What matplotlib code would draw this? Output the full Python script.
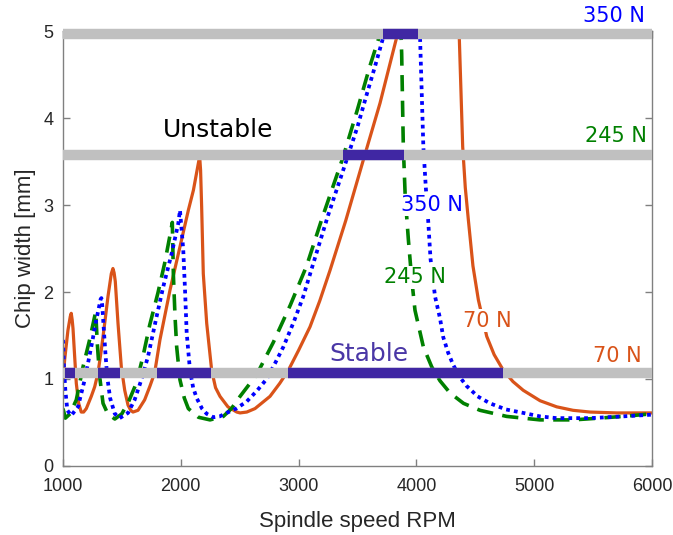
import matplotlib
matplotlib.use("Agg")
import matplotlib.pyplot as plt
from matplotlib import font_manager

# stability lobes
rpm_70 = [1000, 1014, 1042, 1062, 1070, 1078, 1085, 1099, 1113, 1133, 1155, 1175, 1198, 1240, 1269, 1297, 1325,
          1354, 1382, 1410, 1424, 1434, 1444, 1467, 1495, 1524, 1552, 1575, 1594, 1637, 1693, 1736, 1778, 1823,
          1908, 1993, 2064, 2107, 2145, 2160, 2168, 2177, 2191, 2220, 2262, 2295, 2333, 2400, 2475, 2503, 2560,
          2630, 2757, 2840, 2913, 3000, 3097, 3180, 3267, 3400, 3550, 3691, 3833, 3900, 4150, 4330, 4364, 4393,
          4415, 4441, 4480, 4526, 4597, 4660, 4738, 4820, 4907, 5050, 5191, 5330, 5474, 5700, 6000]
width_70 = [0.98, 1.22, 1.56, 1.72, 1.755, 1.68, 1.58, 1.26, 0.95, 0.72, 0.62, 0.62, 0.66, 0.80, 0.91, 1.07, 1.33,
            1.64, 1.95, 2.21, 2.27, 2.22, 2.12, 1.64, 1.14, 0.87, 0.70, 0.64, 0.62, 0.64, 0.76, 0.91, 1.07, 1.45,
            2.02, 2.52, 2.94, 3.17, 3.45, 3.56, 3.40, 2.98, 2.21, 1.64, 1.10, 0.90, 0.80, 0.68, 0.62, 0.61, 0.62,
            0.66, 0.80, 0.95, 1.10, 1.33, 1.60, 1.90, 2.25, 2.82, 3.52, 4.17, 4.93, 5.4, 7.0, 6.5, 4.93, 3.67,
            3.20, 2.83, 2.30, 1.91, 1.49, 1.28, 1.10, 0.97, 0.87, 0.75, 0.68, 0.64, 0.62, 0.61, 0.61]

rpm_245 = [1000, 1020, 1060, 1113, 1170, 1226, 1269, 1278, 1291, 1311, 1340, 1380, 1440, 1500, 1560, 1622, 1679,
           1736, 1806, 1863, 1908, 1928, 1937, 1951, 1965, 1993, 2030, 2064, 2150, 2248, 2361, 2430, 2503, 2644,
           2785, 2930, 3068, 3200, 3380, 3500, 3606, 3700, 3780, 3860, 3875, 3882, 3889, 3905, 3932, 3960, 3988,
           4059, 4130, 4200, 4285, 4400, 4540, 4766, 5049, 5332, 5550, 5754, 6000]
width_245 = [0.66, 0.55, 0.60, 0.76, 1.14, 1.45, 1.72, 1.77, 1.41, 1.03, 0.72, 0.60, 0.54, 0.60, 0.75, 0.95, 1.26,
             1.62, 1.99, 2.33, 2.65, 2.80, 2.20, 1.72, 1.37, 0.99, 0.78, 0.66, 0.56, 0.53, 0.57, 0.66, 0.80, 1.05,
             1.42, 1.85, 2.30, 2.85, 3.56, 4.10, 4.60, 5.0, 5.5, 5.3, 4.74, 4.20, 3.67, 3.10, 2.60, 2.15, 1.79,
             1.37, 1.14, 0.98, 0.84, 0.72, 0.64, 0.57, 0.53, 0.53, 0.55, 0.57, 0.60]

rpm_350 = [1000, 1008, 1020, 1037, 1070, 1127, 1184, 1240, 1283, 1320, 1326, 1333, 1345, 1360, 1375, 1400, 1440,
           1481, 1552, 1608, 1665, 1722, 1795, 1851, 1922, 1979, 1993, 2005, 2021, 2036, 2050, 2078, 2105, 2135,
           2180, 2220, 2276, 2330, 2389, 2470, 2559, 2650, 2729, 2800, 2871, 2960, 3040, 3125, 3250, 3408, 3500,
           3578, 3650, 3719, 3800, 3950, 4020, 4031, 4045, 4059, 4080, 4101, 4120, 4158, 4200, 4228, 4270, 4313,
           4370, 4426, 4520, 4625, 4760, 4907, 5050, 5191, 5474, 5750, 6000]
width_350 = [1.45, 1.14, 0.87, 0.64, 0.58, 0.68, 0.99, 1.37, 1.68, 1.92, 1.93, 1.85, 1.60, 1.30, 1.03, 0.78, 0.60,
             0.55, 0.61, 0.76, 0.99, 1.26, 1.72, 2.06, 2.44, 2.79, 2.94, 2.75, 2.48, 2.02, 1.53, 1.10, 0.90, 0.78,
             0.66, 0.60, 0.56, 0.57, 0.61, 0.66, 0.74, 0.87, 1.00, 1.18, 1.37, 1.66, 1.95, 2.33, 2.88, 3.52, 3.90,
             4.27, 4.60, 4.93, 5.5, 5.8, 5.2, 4.93, 4.30, 3.67, 3.20, 2.80, 2.38, 1.95, 1.70, 1.48, 1.30, 1.16,
             1.02, 0.92, 0.80, 0.72, 0.65, 0.61, 0.57, 0.55, 0.55, 0.57, 0.59]

# chip width levels tested (350 N, 245 N, 70 N) and the unstable rpm ranges on them
level_350 = 4.97
level_245 = 3.58
level_70 = 1.07
unstable_350 = [(3717, 4014)]
unstable_245 = [(3377, 3895)]
unstable_70 = [(1014, 1104), (1297, 1481), (1798, 2256), (2910, 4735)]

x_ticks = [1000, 2000, 3000, 4000, 5000, 6000]
y_ticks = [0, 1, 2, 3, 4, 5]

orange = "#D95319"
blue = "#0000FF"
green = "#008000"
grey = "#C0C0C0"
purple = "#4027A3"

names = {f.name for f in font_manager.fontManager.ttflist}
if "Liberation Sans Narrow" in names:
    tick_font, tick_size = "Liberation Sans Narrow", 16
else:
    tick_font, tick_size = "Liberation Sans", 13
label_font = "Liberation Sans"

fig = plt.figure(figsize=(6.73, 5.35), dpi=100)
ax = fig.add_axes([0.0936, 0.129, 0.8752, 0.813])

ax.plot(rpm_70, width_70, color=orange, lw=2.3, zorder=2)
ax.plot(rpm_245, width_245, color=green, lw=2.6, linestyle=(0, (4.5, 2.6)), zorder=2)
ax.plot(rpm_350, width_350, color=blue, lw=2.7, linestyle=(0, (1, 1.1)), zorder=2)

for lev, segs in [(level_350, unstable_350), (level_245, unstable_245), (level_70, unstable_70)]:
    ax.plot([1000, 6000], [lev, lev], color=grey, lw=7.5, solid_capstyle="butt", zorder=3, clip_on=False)
    for a, b in segs:
        ax.plot([a, b], [lev, lev], color=purple, lw=7.5, solid_capstyle="butt", zorder=4, clip_on=False)

box = dict(facecolor="white", edgecolor="none", pad=1)
ax.text(5940, 5.17, "350 N", color=blue, fontsize=15, ha="right", va="center", zorder=5, clip_on=False)
ax.text(5955, 3.79, "245 N", color=green, fontsize=15, ha="right", va="center", zorder=5)
ax.text(5912, 1.27, "70 N", color=orange, fontsize=15, ha="right", va="center", zorder=5)
ax.text(2313, 3.86, "Unstable", color="black", fontsize=18, ha="center", va="center", zorder=5)
ax.text(3598, 1.29, "Stable", color="#4A37A6", fontsize=18, ha="center", va="center", zorder=5)
ax.text(4132, 3.0, "350 N", color=blue, fontsize=15, ha="center", va="center", zorder=5, bbox=box)
ax.text(3991, 2.17, "245 N", color=green, fontsize=15, ha="center", va="center", zorder=5, bbox=box)
ax.text(4599, 1.67, "70 N", color=orange, fontsize=15, ha="center", va="center", zorder=5, bbox=box)

ax.set_xlim(1000, 6000)
ax.set_ylim(0, 5)
ax.set_xticks(x_ticks)
ax.set_yticks(y_ticks)
ax.tick_params(direction="in", length=5, width=1, color="#808080", labelcolor="#262626",
               top=True, right=True, labelsize=tick_size)
ax.tick_params(axis="x", pad=9)
ax.tick_params(axis="y", pad=7)
for lab in ax.get_xticklabels() + ax.get_yticklabels():
    lab.set_family(tick_font)
for s in ax.spines.values():
    s.set_color("#808080")
    s.set_linewidth(1)
ax.set_xlabel("Spindle speed RPM", fontsize=16, color="#262626", family=label_font, labelpad=11)
ax.set_ylabel("Chip width [mm]", fontsize=16, color="#262626", family=label_font, labelpad=5)

fig.savefig("out.png", dpi=100)
